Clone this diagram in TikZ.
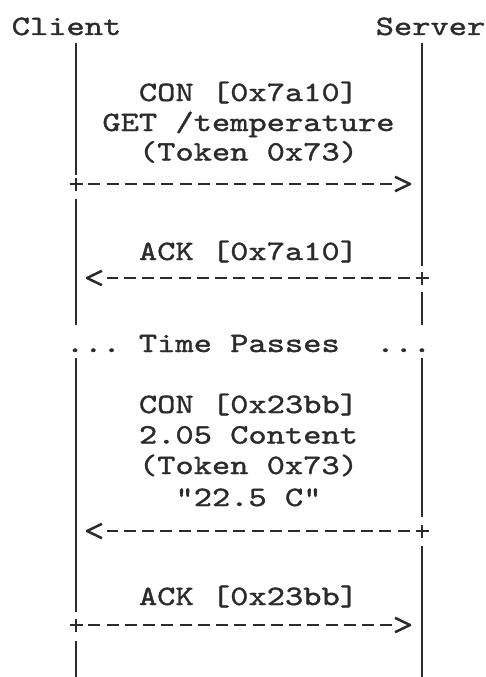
\documentclass[tikz,border=0pt]{standalone}
\usepackage{fontspec}
\newfontfamily\cour{lmmono10-regular.otf}[FakeStretch=1.242,FakeBold=1.3]
\definecolor{ink}{HTML}{2B2B2B}
\tikzset{
  life/.style={draw=ink, line width=2.3pt},
  shaft/.style={draw=ink, line width=2.7pt, dash pattern=on 12pt off 6.26pt,
                shorten <=12.3pt, shorten >=30.5pt},
  tipline/.style={draw=ink, line width=2.5pt, line join=round, solid},
  txt/.style={inner sep=0pt, anchor=base, text=ink,
              font=\cour\fontsize{28pt}{30pt}\selectfont},
  tipR/.pic={\draw[tipline] (-27,-7.2) -- (-12,0) -- (-27,7.2);},
  tipL/.pic={\draw[tipline] (26,-7.2) -- (11,0) -- (26,7.2);},
  plusmark/.pic={\draw[tipline] (-6.5,0) -- (6.5,0) (0,-6.5) -- (0,6.5);}
}
\begin{document}
\begin{tikzpicture}[x=1pt,y=-1pt]
\useasboundingbox[fill=white] (0,0) rectangle (486,677);

% participants
\node[txt] (client) at (66.5,35) {Client};
\node[txt] (server) at (430.5,35) {Server};

% lifeline coordinates
\coordinate (c0) at (76,43);  \coordinate (c1) at (76,175);
\coordinate (c2) at (76,199); \coordinate (c3) at (76,325);
\coordinate (c4) at (76,358); \coordinate (c5) at (76,612);
\coordinate (c6) at (76,641); \coordinate (c7) at (76,677);
\coordinate (s0) at (422,43);   \coordinate (s1) at (422,266);
\coordinate (s2) at (422,292);  \coordinate (s3) at (422,325);
\coordinate (s4) at (422,358);  \coordinate (s5) at (422,517);
\coordinate (s6) at (422,546);  \coordinate (s7) at (422,677);

\draw[life] (c0) -- (c1);
\draw[life] (c2) -- (c3);
\draw[life] (c4) -- (c5);
\draw[life] (c6) -- (c7);
\draw[life] (s0) -- (s1);
\draw[life] (s2) -- (s3);
\draw[life] (s4) -- (s5);
\draw[life] (s6) -- (s7);

% message end points
\coordinate (m1c) at (76,184); \coordinate (m1s) at (422,184);
\coordinate (m2c) at (76,278); \coordinate (m2s) at (422,278);
\coordinate (m3c) at (76,531); \coordinate (m3s) at (422,531);
\coordinate (m4c) at (76,625); \coordinate (m4s) at (422,625);

% message 1
\node[txt] (t1a) at (248.5,101) {CON [0x7a10]};
\node[txt] (t1b) at (248.5,131) {GET /temperature};
\node[txt] (t1c) at (248.5,160.5) {(Token 0x73)};
\draw[shaft] (m1c) -- (m1s);
\pic at (m1c) {plusmark};
\pic at (m1s) {tipR};

% message 2
\node[txt] (t2a) at (248.5,260) {ACK [0x7a10]};
\draw[shaft] (m2s) -- (m2c);
\pic at (m2s) {plusmark};
\pic at (m2c) {tipL};

% time passes
\node[txt] (tp) at (248.5,352) {...~Time~Passes~~...};

% message 3
\node[txt] (t3a) at (248.5,413) {CON [0x23bb]};
\node[txt] (t3b) at (248.5,443.5) {2.05 Content};
\node[txt] (t3c) at (248.5,474) {(Token 0x73)};
\node[txt] (t3d) at (248.5,506) {"22.5 C"};
\draw[shaft] (m3s) -- (m3c);
\pic at (m3s) {plusmark};
\pic at (m3c) {tipL};

% message 4
\node[txt] (t4a) at (248.5,605) {ACK [0x23bb]};
\draw[shaft] (m4c) -- (m4s);
\pic at (m4c) {plusmark};
\pic at (m4s) {tipR};
\end{tikzpicture}
\end{document}
